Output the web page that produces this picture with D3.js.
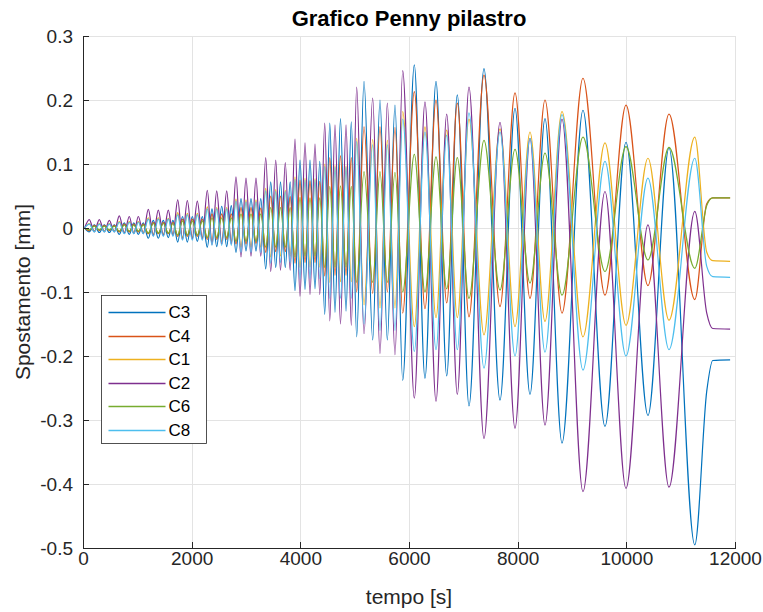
<!doctype html>
<html>
<head>
<meta charset="utf-8">
<style>
  body { margin: 0; background: #fff; }
  svg { font-family: "Liberation Sans", Arial, sans-serif; }
  .axis path, .axis line { stroke: #262626; shape-rendering: crispEdges; }
  .axis text { fill: #262626; font-size: 19px; }
  .grid line { stroke: #e3e3e3; shape-rendering: crispEdges; }
  .grid path { display: none; }
  .serie { fill: none; stroke-width: 1.2; }
</style>
<script src="https://d3js.org/d3.v7.min.js"></script>
</head>
<body>
<script>
// times (s) of the peaks of C2/C1/C8 (= troughs of C3/C4/C6)
var tB = [116, 300, 484, 668, 852, 1018, 1202, 1386, 1570, 1743, 1920, 2104, 2288, 2461, 2645,
  2816, 3000, 3184, 3363, 3547, 3723, 3902, 4086, 4270, 4449, 4638, 4841, 5037, 5332, 5601,
  5884, 6294, 6694, 7104, 7675, 8227, 8816, 9607, 10398, 11260];
// times (s) of the peaks of C3/C4/C6 (= troughs of C2/C1/C8)
var tA = [208, 392, 576, 760, 935, 1110, 1294, 1478, 1656, 1831, 2012, 2196, 2374, 2553, 2729,
  2908, 3092, 3272, 3455, 3635, 3813, 3994, 4178, 4358, 4542, 4739, 4938, 5172, 5466, 5742,
  6098, 6497, 6889, 7380, 7951, 8503, 9202, 9994, 10785];
// end of the test, where every channel settles
var tailT = [11480, 11590, 11910];

// C3
var c3Hi = [0.005,0.005,0.005, 0.008,0.008,0.008, 0.012,0.012,0.012, 0.018,0.018,0.018, 0.030,0.034,0.035,
  0.046,0.046,0.046, 0.072,0.072,0.072, 0.106,0.106,0.104, 0.164,0.171,0.166, 0.229,0.200,0.192,
  0.255,0.229,0.208, 0.249,0.187,0.171, 0.184,0.134,0.125];
var c3Lo = [-0.006,-0.007,-0.007, -0.010,-0.010,-0.010, -0.016,-0.016,-0.015, -0.022,-0.022,-0.021, -0.030,-0.029,-0.029,
  -0.038,-0.036,-0.036, -0.064,-0.062,-0.062, -0.098,-0.096,-0.095, -0.135,-0.132,-0.130, -0.170,-0.175,-0.175,
  -0.238,-0.235,-0.231, -0.278,-0.269,-0.260, -0.336,-0.310,-0.293, -0.495];
var c3Tail = [-0.255, -0.207, -0.206];

// C4
var c4Hi = [0.004,0.004,0.004, 0.006,0.006,0.006, 0.009,0.009,0.009, 0.014,0.014,0.014, 0.022,0.022,0.022,
  0.032,0.032,0.031, 0.050,0.050,0.049, 0.075,0.074,0.073, 0.110,0.113,0.110, 0.158,0.158,0.157,
  0.213,0.200,0.195, 0.239,0.211,0.200, 0.234,0.192,0.178];
var c4Lo = [-0.004,-0.004,-0.004, -0.006,-0.006,-0.006, -0.009,-0.009,-0.009, -0.013,-0.013,-0.013, -0.018,-0.018,-0.018,
  -0.025,-0.025,-0.024, -0.038,-0.037,-0.037, -0.055,-0.054,-0.054, -0.075,-0.074,-0.074, -0.100,-0.102,-0.100,
  -0.133,-0.126,-0.117, -0.139,-0.123,-0.110, -0.133,-0.105,-0.090, -0.112];
var c4Tail = [0.038, 0.047, 0.047];

// C1
var c1Hi = [0.007,0.007,0.007, 0.010,0.010,0.010, 0.016,0.016,0.015, 0.024,0.023,0.023, 0.033,0.032,0.032,
  0.045,0.044,0.044, 0.062,0.060,0.059, 0.080,0.078,0.077, 0.100,0.098,0.097, 0.140,0.138,0.137,
  0.182,0.158,0.153, 0.170,0.155,0.150, 0.182,0.133,0.109, 0.142];
var c1Lo = [-0.005,-0.005,-0.005, -0.007,-0.007,-0.007, -0.010,-0.010,-0.010, -0.015,-0.015,-0.015, -0.021,-0.021,-0.021,
  -0.030,-0.030,-0.030, -0.045,-0.044,-0.044, -0.062,-0.061,-0.061, -0.085,-0.084,-0.084, -0.120,-0.125,-0.125,
  -0.154,-0.140,-0.140, -0.167,-0.154,-0.146, -0.170,-0.152,-0.144];
var c1Tail = [-0.038, -0.051, -0.052];

// C2
var c2Hi = [0.013,0.013,0.012, 0.019,0.018,0.018, 0.029,0.028,0.028, 0.044,0.043,0.042, 0.059,0.058,0.058,
  0.080,0.078,0.078, 0.110,0.106,0.102, 0.139,0.133,0.131, 0.164,0.161,0.161, 0.220,0.203,0.195,
  0.246,0.197,0.178, 0.220,0.165,0.140, 0.170,0.057,0.005, 0.026];
var c2Lo = [-0.006,-0.006,-0.006, -0.008,-0.009,-0.009, -0.012,-0.012,-0.012, -0.018,-0.017,-0.017, -0.026,-0.025,-0.025,
  -0.045,-0.044,-0.044, -0.068,-0.066,-0.066, -0.107,-0.104,-0.104, -0.145,-0.150,-0.152, -0.165,-0.196,-0.198,
  -0.266,-0.271,-0.260, -0.329,-0.313,-0.308, -0.412,-0.407,-0.405];
var c2Tail = [-0.133, -0.157, -0.158];

// C6
var c6Hi = [0.003,0.003,0.003, 0.005,0.005,0.005, 0.007,0.007,0.007, 0.011,0.011,0.011, 0.016,0.016,0.016,
  0.022,0.022,0.022, 0.032,0.032,0.032, 0.048,0.047,0.047, 0.065,0.066,0.065, 0.088,0.088,0.087,
  0.115,0.111,0.110, 0.137,0.123,0.117, 0.142,0.127,0.126];
var c6Lo = [-0.003,-0.003,-0.003, -0.005,-0.005,-0.005, -0.008,-0.008,-0.008, -0.011,-0.011,-0.011, -0.015,-0.015,-0.015,
  -0.021,-0.021,-0.021, -0.030,-0.030,-0.030, -0.045,-0.044,-0.044, -0.062,-0.061,-0.061, -0.085,-0.085,-0.085,
  -0.100,-0.100,-0.095, -0.110,-0.097,-0.086, -0.105,-0.068,-0.050, -0.063];
var c6Tail = [0.035, 0.047, 0.047];

// C8
var c8Hi = [0.006,0.006,0.006, 0.009,0.009,0.009, 0.014,0.014,0.014, 0.021,0.021,0.021, 0.030,0.030,0.030,
  0.042,0.041,0.041, 0.058,0.057,0.057, 0.076,0.075,0.075, 0.096,0.095,0.095, 0.135,0.130,0.130,
  0.170,0.150,0.145, 0.180,0.150,0.140, 0.177,0.104,0.078, 0.109];
var c8Lo = [-0.006,-0.006,-0.006, -0.009,-0.009,-0.009, -0.013,-0.013,-0.013, -0.019,-0.019,-0.019, -0.027,-0.027,-0.027,
  -0.038,-0.038,-0.038, -0.055,-0.054,-0.054, -0.080,-0.079,-0.079, -0.110,-0.110,-0.110, -0.150,-0.160,-0.160,
  -0.193,-0.190,-0.190, -0.219,-0.200,-0.194, -0.222,-0.200,-0.190];
var c8Tail = [-0.060, -0.076, -0.077];

var xTicks = [0, 2000, 4000, 6000, 8000, 10000, 12000];
var yTicks = [-0.5, -0.4, -0.3, -0.2, -0.1, 0, 0.1, 0.2, 0.3];

// group 'A' peaks at tA, group 'B' peaks at tB
var series = [
  {name: 'C3', color: '#0072BD', group: 'A', hi: c3Hi, lo: c3Lo, tail: c3Tail},
  {name: 'C4', color: '#D95319', group: 'A', hi: c4Hi, lo: c4Lo, tail: c4Tail},
  {name: 'C1', color: '#EDB120', group: 'B', hi: c1Hi, lo: c1Lo, tail: c1Tail},
  {name: 'C2', color: '#7E2F8E', group: 'B', hi: c2Hi, lo: c2Lo, tail: c2Tail},
  {name: 'C6', color: '#77AC30', group: 'A', hi: c6Hi, lo: c6Lo, tail: c6Tail},
  {name: 'C8', color: '#4DBEEE', group: 'B', hi: c8Hi, lo: c8Lo, tail: c8Tail}
];

function points(s) {
  var onB = s.group == 'A' ? s.lo : s.hi;
  var onA = s.group == 'A' ? s.hi : s.lo;
  var pts = [[30, 0]];
  tB.forEach(function(t, i) {
    pts.push([t, onB[i]]);
    if (i < tA.length) pts.push([tA[i], onA[i]]);
  });
  tailT.forEach(function(t, i) { pts.push([t, s.tail[i]]); });
  return pts;
}

var margin = {top: 36, right: 28, bottom: 64, left: 83};
var width = 763 - margin.left - margin.right;
var height = 612 - margin.top - margin.bottom;

var svg = d3.select('body').append('svg')
  .attr('width', 763)
  .attr('height', 612);
var g = svg.append('g')
  .attr('transform', `translate(${margin.left},${margin.top})`);

var x = d3.scaleLinear().domain([0, 12000]).range([0, width]);
var y = d3.scaleLinear().domain([-0.5, 0.3]).range([height, 0]);

// grid
g.append('g').attr('class', 'grid')
  .attr('transform', `translate(0,${height})`)
  .call(d3.axisBottom(x).tickValues(xTicks).tickSize(-height).tickFormat(''));
g.append('g').attr('class', 'grid')
  .call(d3.axisLeft(y).tickValues(yTicks).tickSize(-width).tickFormat(''));

// lines
var line = d3.line()
  .x(d => x(d[0]))
  .y(d => y(d[1]))
  .curve(d3.curveMonotoneX);

g.append('g')
  .selectAll('path')
  .data(series)
  .enter().append('path')
  .attr('class', 'serie')
  .attr('stroke', d => d.color)
  .attr('d', d => line(points(d)));

// axes (MATLAB style: ticks inside, plain hyphen for minus)
g.append('g').attr('class', 'axis')
  .attr('transform', `translate(0,${height})`)
  .call(d3.axisBottom(x).tickValues(xTicks).tickSizeInner(-6).tickSizeOuter(0).tickPadding(4).tickFormat(d => String(d)));
g.append('g').attr('class', 'axis')
  .call(d3.axisLeft(y).tickValues(yTicks).tickSizeInner(-6).tickSizeOuter(0).tickPadding(10).tickFormat(d => String(+d.toFixed(1))));
svg.selectAll('.axis text').attr('font-family', null).attr('font-size', null);

// title + axis labels
svg.append('text')
  .text('Grafico Penny pilastro')
  .attr('x', margin.left + width / 2)
  .attr('y', 26)
  .attr('text-anchor', 'middle')
  .style('font-size', '22px')
  .style('font-weight', 'bold')
  .style('fill', '#000');

svg.append('text')
  .text('tempo [s]')
  .attr('x', margin.left + width / 2)
  .attr('y', 604)
  .attr('text-anchor', 'middle')
  .style('font-size', '21px')
  .style('fill', '#262626');

svg.append('text')
  .text('Spostamento [mm]')
  .attr('transform', `translate(30,${margin.top + height / 2}) rotate(-90)`)
  .attr('text-anchor', 'middle')
  .style('font-size', '21px')
  .style('fill', '#262626');

// legend
var legend = svg.append('g').attr('transform', 'translate(101.5,295.5)');
legend.append('rect')
  .attr('width', 105)
  .attr('height', 148)
  .attr('fill', '#fff')
  .attr('stroke', '#262626')
  .attr('stroke-width', 0.8);
var item = legend.selectAll('.item')
  .data(series)
  .enter().append('g')
  .attr('class', 'item')
  .attr('transform', (d, i) => `translate(0,${Math.round(17 + i * 23.5)})`);
item.append('line')
  .attr('x1', 7).attr('x2', 64)
  .style('stroke', d => d.color)
  .style('stroke-width', 1.4);
item.append('text')
  .text(d => d.name)
  .attr('x', 67)
  .attr('dy', '0.35em')
  .style('font-size', '17px')
  .style('fill', '#000');
</script>
</body>
</html>
